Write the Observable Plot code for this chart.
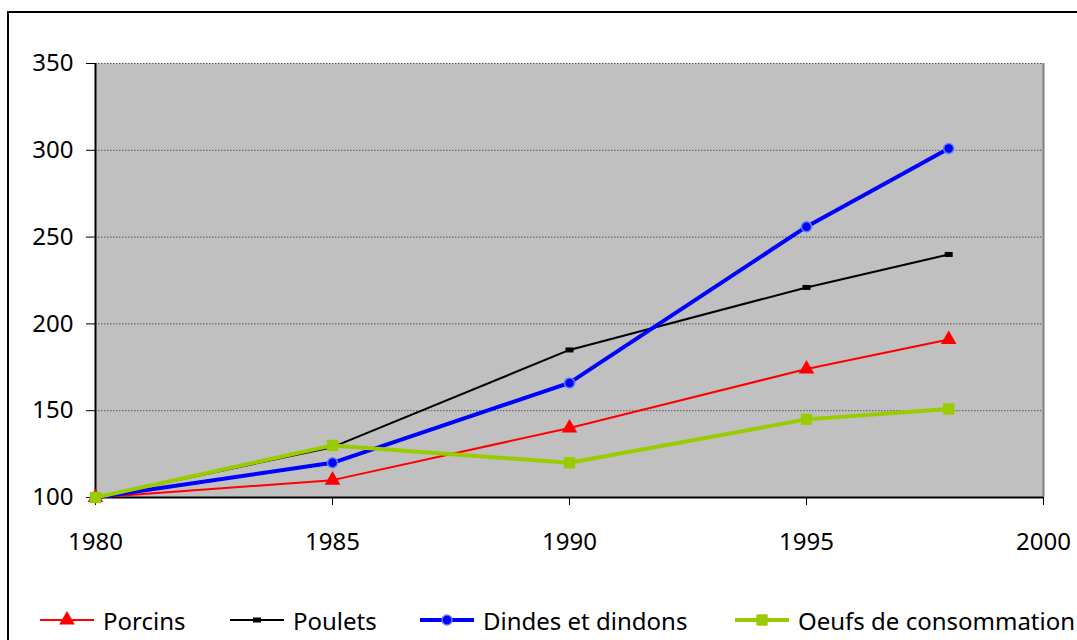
<!DOCTYPE html>
<html>
<head>
<meta charset="utf-8">
<script src="https://cdn.jsdelivr.net/npm/d3@7"></script>
<script src="https://cdn.jsdelivr.net/npm/@observablehq/plot@0.6"></script>
<style>
  html, body { margin: 0; padding: 0; background: #fff; overflow: hidden; width: 1077px; height: 640px; }
  body { font-family: "Noto Sans", sans-serif; position: relative; }
  #frame { position: absolute; left: 7px; top: 11px; width: 1200px; height: 700px; border: 2px solid #000; }
  #chart { position: absolute; left: 9px; top: 13px; }
  .item { position: absolute; top: 605px; height: 30px; display: flex; align-items: center; font-size: 24px; color: #000; white-space: nowrap; }
  .item svg { margin-right: 9px; }
</style>
</head>
<body>
<div id="frame"></div>
<div id="chart"></div>
<div id="legend"></div>
<script>
const years = [1980, 1985, 1990, 1995, 1998];
const seriesNames = ["Porcins", "Poulets", "Dindes et dindons", "Oeufs de consommation"];
const porcins = [100, 110, 140, 174, 191];
const poulets = [100, 129, 185, 221, 240];
const dindes  = [100, 120, 166, 256, 301];
const oeufs   = [100, 130, 120, 145, 151];
const yTicks = [100, 150, 200, 250, 300, 350];
const xTicks = [1980, 1985, 1990, 1995, 2000];

const seriesValues = [porcins, poulets, dindes, oeufs];
const styles = [
  {stroke: "#ff0000", width: 2, symbol: "triangle", r: 5.8, fill: "#ff0000", dotStroke: "none"},
  {stroke: "#000000", width: 2, symbol: {draw(ctx){ ctx.rect(-4, -2.5, 8, 5); }}, r: 3, fill: "#000000", dotStroke: "none"},
  {stroke: "#0000ff", width: 4, symbol: "circle", r: 5, fill: "#0000ff", dotStroke: "#5a82ff"},
  {stroke: "#99cc00", width: 4, symbol: "square", r: 6.4, fill: "#99cc00", dotStroke: "none"}
];

const tables = seriesValues.map((vals, i) => years.map((y, j) => ({year: y, value: vals[j], series: seriesNames[i]})));

const marks = [
  Plot.frame({fill: "#c0c0c0", stroke: "none"}),
  Plot.ruleY(yTicks.filter(d => d > 100), {stroke: "#555", strokeWidth: 1, strokeDasharray: "1.5,1.5"}),
  Plot.ruleX([2000], {stroke: "#808080", strokeWidth: 2}),
  Plot.ruleX([1980], {stroke: "#000", strokeWidth: 2}),
  Plot.ruleY([100], {stroke: "#000", strokeWidth: 2}),
  Plot.axisY({ticks: yTicks, tickSize: 9, tickPadding: 13, fontSize: 24, label: null, tickFormat: d => String(d), stroke: "#000"}),
  Plot.axisX({ticks: xTicks, tickSize: 8, tickPadding: 27, fontSize: 24, label: null, tickFormat: d => String(d), stroke: "#000"})
];
tables.forEach((t, i) => {
  const s = styles[i];
  marks.push(Plot.line(t, {x: "year", y: "value", stroke: s.stroke, strokeWidth: s.width}));
  marks.push(Plot.dot(t, {x: "year", y: "value", symbol: () => s.symbol, r: s.r, fill: s.fill, stroke: s.dotStroke, strokeWidth: 1.5}));
});

const chart = Plot.plot({
  width: 1068,
  height: 560,
  marginLeft: 86,
  marginRight: 34,
  marginTop: 50,
  marginBottom: 76,
  style: {fontFamily: "Noto Sans, sans-serif", color: "#000", background: "transparent", overflow: "visible"},
  x: {domain: [1980, 2000]},
  y: {domain: [100, 350]},
  symbol: {type: "identity"},
  marks
});
document.getElementById("chart").appendChild(chart);

// Legend
const legendLefts = [40, 230, 420, 735];
const legend = document.getElementById("legend");
seriesNames.forEach((name, i) => {
  const s = styles[i];
  const div = document.createElement("div");
  div.className = "item";
  div.style.left = legendLefts[i] + "px";
  const sw = d3.create("svg").attr("width", 54).attr("height", 20);
  sw.append("line").attr("x1", 0).attr("x2", 54).attr("y1", 10).attr("y2", 10)
    .attr("stroke", s.stroke).attr("stroke-width", s.width);
  const sym = typeof s.symbol === "string"
    ? d3.symbol(s.symbol === "triangle" ? d3.symbolTriangle : s.symbol === "square" ? d3.symbolSquare : d3.symbolCircle, Math.PI * s.r * s.r)()
    : "M-4,-2.5h8v5h-8z";
  sw.append("path").attr("d", sym).attr("transform", "translate(27,10)")
    .attr("fill", s.fill).attr("stroke", s.dotStroke).attr("stroke-width", 1.5);
  div.appendChild(sw.node());
  const span = document.createElement("span");
  span.textContent = name;
  div.appendChild(span);
  legend.appendChild(div);
});
</script>
</body>
</html>
